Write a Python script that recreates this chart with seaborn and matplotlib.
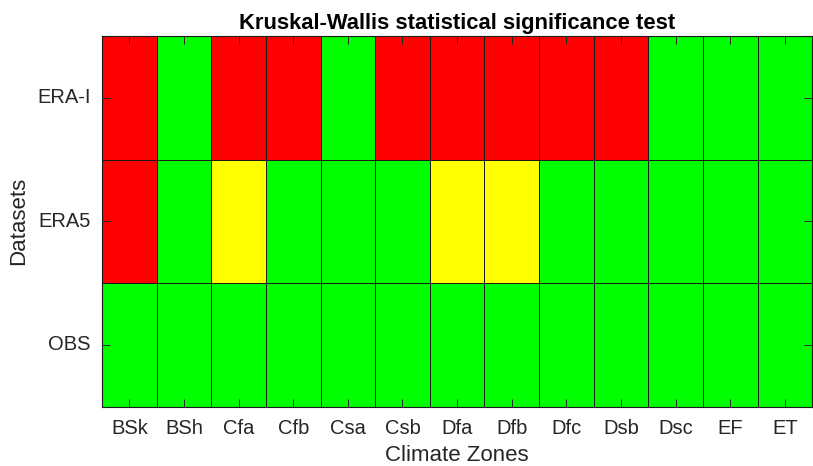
import numpy as np
import pandas as pd
import matplotlib
matplotlib.use("Agg")
import matplotlib.pyplot as plt
from matplotlib.colors import ListedColormap
import seaborn as sns

zones = ["BSk", "BSh", "Cfa", "Cfb", "Csa", "Csb", "Dfa", "Dfb", "Dfc", "Dsb", "Dsc", "EF", "ET"]
datasets = ["ERA-I", "ERA5", "OBS"]
# 0 = green, 1 = yellow, 2 = red
era_i = [2, 0, 2, 2, 0, 2, 2, 2, 2, 2, 0, 0, 0]
era5 = [2, 0, 1, 0, 0, 0, 1, 1, 0, 0, 0, 0, 0]
obs = [0, 0, 0, 0, 0, 0, 0, 0, 0, 0, 0, 0, 0]

df = pd.DataFrame([era_i, era5, obs], index=datasets, columns=zones)

sns.set_style("white")
plt.rcParams['font.family'] = ['Liberation Sans', 'DejaVu Sans']

fig = plt.figure(figsize=(8.13, 4.66), dpi=100)
ax = fig.add_axes([0.1255, 0.127, 0.8735, 0.796])
cmap = ListedColormap(["#00ff00", "#ffff00", "#ff0000"])
sns.heatmap(df, ax=ax, cmap=cmap, vmin=-0.5, vmax=2.5, cbar=False,
            linewidths=0.6, linecolor="#1a1a1a")

for s in ax.spines.values():
    s.set_visible(True)
    s.set_color("#1a1a1a")
    s.set_linewidth(0.8)

txt = "#262626"
ax.tick_params(axis="both", which="major", direction="in", length=6, width=0.7,
               color="#262626", labelsize=14.5, labelcolor=txt)
ax.tick_params(axis="x", top=True, bottom=True, labeltop=False, labelbottom=True,
               labelrotation=0, pad=9)
ax.tick_params(axis="y", left=True, right=True, labelleft=True, labelright=False,
               labelrotation=0, pad=8)
ax.set_axisbelow(False)
ax.set_xlabel("Climate Zones", fontsize=16, color=txt, labelpad=5)
ax.set_ylabel("Datasets", fontsize=16, color=txt, labelpad=6)
ax.set_title("Kruskal-Wallis statistical significance test", fontsize=15.8,
             fontweight="bold", color="black", pad=5)

fig.savefig("out.png", dpi=100)
